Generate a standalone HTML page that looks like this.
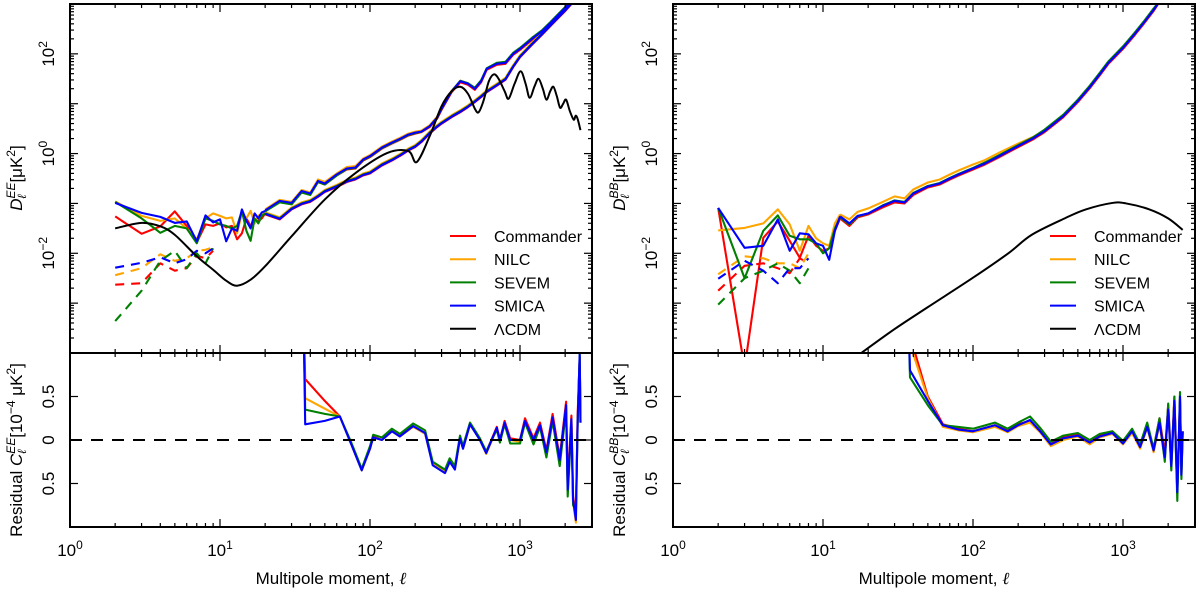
<!DOCTYPE html>
<html><head><meta charset="utf-8"><style>
html,body{margin:0;padding:0;background:#fff;}
svg{display:block;font-family:"Liberation Sans","DejaVu Sans",sans-serif;}
</style></head><body>
<svg id="fig" width="1200" height="592" viewBox="0 0 1200 592" xmlns="http://www.w3.org/2000/svg">
<defs>
<clipPath id="cU0"><rect x="70" y="4" width="522" height="349"/></clipPath>
<clipPath id="cL0"><rect x="70" y="353" width="522" height="174"/></clipPath>
<clipPath id="cU1"><rect x="673" y="4" width="522" height="349"/></clipPath>
<clipPath id="cL1"><rect x="673" y="353" width="522" height="174"/></clipPath>
</defs>
<g id="layer"></g>
</svg>
<script>
// ---------- EE data (log10 D_ell in muK^2) ----------
const ellLow = [2,3,4,5,6,7,8,9,10,11,12,13,14,15,16,17,18,19,20];
const eeLowCommander = [-1.26,-1.61,-1.46,-1.16,-1.45,-1.78,-1.42,-1.45,-1.4,-1.48,-1.45,-1.72,-1.6,-1.3,-1.45,-1.35,-1.35,-1.3,-1.2];
const eeLowNILC = [-0.96,-1.25,-1.35,-1.3,-1.5,-1.72,-1.3,-1.2,-1.25,-1.3,-1.28,-1.6,-1.2,-1.3,-1.15,-1.4,-1.25,-1.2,-1.15];
const eeLowSEVEM = [-0.97,-1.3,-1.59,-1.45,-1.5,-1.8,-1.3,-1.35,-1.42,-1.45,-1.5,-1.45,-1.15,-1.55,-1.75,-1.3,-1.4,-1.25,-1.2];
const eeLowSMICA = [-0.99,-1.19,-1.27,-1.39,-1.36,-1.76,-1.24,-1.38,-1.32,-1.76,-1.5,-1.55,-1.12,-1.35,-1.5,-1.2,-1.3,-1.18,-1.15];
const ellDash = [2,3,4,5,6,7,8,9];
const eeDashCommander = [-2.63,-2.6,-2.2,-2.35,-2.3,-2.05,-2.1,-1.95];
const eeDashNILC = [-2.44,-2.3,-2.02,-2.15,-2.1,-1.95,-1.93,-1.88];
const eeDashSEVEM = [-3.36,-2.75,-2.15,-1.95,-2.3,-2.0,-2.2,-1.9];
const eeDashSMICA = [-2.29,-2.19,-2.08,-2.2,-2.12,-1.95,-2.0,-1.9];
const ellBand = [20,25,30,35,40,45,50,60,70,80,90,100,120,140,160,180,200,220,250,280,300,350,400,450,500,550,600,700,800,900,1000,1200,1400,1600,1800,2000,2200,2400,2600];
const eeHighCommander = [-1.15,-0.97,-1.0,-0.78,-0.82,-0.57,-0.62,-0.44,-0.32,-0.3,-0.14,-0.07,0.1,0.2,0.28,0.36,0.4,0.43,0.53,0.7,0.88,1.23,1.43,1.38,1.28,1.43,1.68,1.78,1.8,1.98,2.08,2.28,2.43,2.6,2.76,2.9,3.03,3.18,3.3];
const eeHighNILC = [-1.12,-0.93,-0.97,-0.73,-0.78,-0.52,-0.57,-0.4,-0.27,-0.25,-0.1,-0.03,0.14,0.24,0.32,0.4,0.44,0.46,0.57,0.74,0.92,1.26,1.46,1.41,1.31,1.46,1.71,1.81,1.83,2.01,2.11,2.31,2.46,2.63,2.79,2.93,3.06,3.21,3.3];
const eeHighSEVEM = [-1.16,-0.98,-1.02,-0.78,-0.83,-0.57,-0.62,-0.44,-0.31,-0.29,-0.13,-0.06,0.11,0.21,0.29,0.37,0.41,0.44,0.55,0.72,0.9,1.25,1.46,1.41,1.32,1.47,1.71,1.82,1.84,2.02,2.12,2.32,2.47,2.64,2.8,2.94,3.07,3.22,3.3];
const eeHighSMICA = [-1.14,-0.95,-0.99,-0.75,-0.8,-0.55,-0.6,-0.42,-0.3,-0.28,-0.12,-0.05,0.12,0.22,0.3,0.38,0.42,0.44,0.55,0.72,0.9,1.25,1.45,1.4,1.3,1.45,1.7,1.8,1.82,2.0,2.1,2.3,2.45,2.62,2.78,2.92,3.05,3.2,3.3];
const eeLowBandCommander = [-1.22,-1.32,-1.12,-1.02,-0.97,-0.87,-0.77,-0.67,-0.57,-0.52,-0.44,-0.4,-0.24,-0.14,-0.04,0.06,0.13,0.23,0.4,0.53,0.6,0.73,0.83,0.93,1.03,1.13,1.23,1.36,1.48,1.73,1.93,2.18,2.38,2.56,2.72,2.86,3.0,3.13,3.3];
const eeLowBandNILC = [-1.18,-1.28,-1.08,-0.98,-0.93,-0.83,-0.73,-0.63,-0.53,-0.48,-0.4,-0.36,-0.2,-0.1,0.0,0.1,0.17,0.27,0.44,0.57,0.64,0.77,0.87,0.97,1.07,1.17,1.27,1.4,1.52,1.77,1.97,2.22,2.42,2.6,2.76,2.9,3.04,3.17,3.3];
const eeLowBandSEVEM = [-1.2,-1.3,-1.1,-1.0,-0.95,-0.85,-0.75,-0.65,-0.55,-0.5,-0.42,-0.38,-0.22,-0.12,-0.02,0.08,0.15,0.25,0.42,0.55,0.62,0.75,0.85,0.95,1.05,1.15,1.25,1.38,1.5,1.75,1.95,2.2,2.4,2.58,2.74,2.88,3.02,3.15,3.3];
const eeLowBandSMICA = [-1.21,-1.31,-1.11,-1.01,-0.96,-0.86,-0.76,-0.66,-0.56,-0.51,-0.43,-0.39,-0.23,-0.13,-0.03,0.07,0.14,0.24,0.41,0.54,0.61,0.74,0.84,0.94,1.04,1.14,1.24,1.37,1.49,1.74,1.94,2.19,2.39,2.57,2.73,2.87,3.01,3.14,3.3];
const ellLcdmEE = [2,3,4,5,7,9,11,13,16,20,30,50,80,130,180,205,250,300,350,400,450,500,530,570,620,670,720,790,840,920,1010,1090,1160,1250,1330,1420,1500,1590,1670,1760,1850,1940,2030,2150,2280,2350,2420,2530];
const lcdmEE = [-1.5,-1.39,-1.46,-1.63,-2.06,-2.33,-2.55,-2.65,-2.53,-2.26,-1.66,-0.92,-0.39,0.01,0.05,-0.17,0.35,0.95,1.25,1.34,1.2,0.9,0.83,1.05,1.45,1.59,1.5,1.25,1.1,1.4,1.65,1.4,1.12,1.35,1.5,1.3,1.08,1.25,1.34,1.15,0.92,1.0,1.08,0.85,0.68,0.76,0.7,0.47];
// ---------- EE residuals (1e-4 muK^2) ----------
const ellResEE = [36,37,50,63,75,88,100,105,120,140,158,194,233,262,316,340,368,398,417,464,540,595,700,735,790,860,1000,1080,1230,1360,1500,1650,1840,2030,2080,2200,2260,2360,2420,2500,2530];
const resEECommander = [1.5,0.7,0.45,0.27,-0.05,-0.34,-0.1,0.04,0.0,0.1,0.05,0.16,0.08,-0.27,-0.36,-0.24,-0.32,0.03,-0.09,0.19,0.01,-0.14,0.15,0.0,0.22,0.02,0.0,0.25,0.02,0.2,-0.12,0.3,-0.2,0.44,-0.5,0.28,-0.65,-0.85,0.28,0.95,0.2];
const resEENILC = [1.5,0.48,0.36,0.27,-0.05,-0.35,-0.1,0.03,0.0,0.1,0.04,0.15,0.07,-0.28,-0.37,-0.25,-0.33,0.02,-0.1,0.18,0.0,-0.16,0.13,-0.01,0.2,0.0,-0.02,0.22,-0.02,0.16,-0.16,0.25,-0.25,0.38,-0.6,0.22,-0.72,-0.95,0.18,0.95,0.2];
const resEESEVEM = [1.5,0.35,0.3,0.27,-0.03,-0.33,-0.07,0.06,0.03,0.13,0.07,0.19,0.11,-0.25,-0.34,-0.21,-0.3,0.05,-0.07,0.2,0.02,-0.13,0.12,-0.03,0.18,-0.04,-0.04,0.2,-0.05,0.15,-0.2,0.22,-0.3,0.35,-0.65,0.18,-0.75,-0.8,0.15,1.0,0.2];
const resEESMICA = [1.5,0.18,0.22,0.27,-0.05,-0.35,-0.1,0.03,0.0,0.1,0.04,0.16,0.08,-0.29,-0.38,-0.25,-0.34,0.02,-0.1,0.18,0.0,-0.15,0.14,0.0,0.2,0.0,0.0,0.22,0.0,0.17,-0.14,0.26,-0.23,0.4,-0.57,0.24,-0.69,-0.92,0.2,0.98,0.2];
// ---------- BB data ----------
const ellLowB = [2,3,4,5,6,7,8,9,10,11,12,13];
const bbLowCommander = [-1.09,-4.3,-1.69,-1.36,-1.75,-2.09,-1.65,-1.85,-1.95,-1.9,-1.55,-1.3];
const bbLowNILC = [-1.54,-1.49,-1.4,-1.12,-1.42,-1.95,-1.45,-1.7,-1.8,-1.85,-1.4,-1.22];
const bbLowSEVEM = [-1.09,-2.5,-1.55,-1.24,-1.65,-1.72,-1.72,-1.8,-2.0,-1.9,-1.5,-1.28];
const bbLowSMICA = [-1.09,-1.89,-1.85,-1.32,-1.95,-1.6,-1.62,-1.8,-1.85,-2.13,-1.55,-1.26];
const ellDashB = [2,3,4,5,6,7,8];
const bbDashCommander = [-2.75,-2.25,-2.2,-2.3,-2.4,-2.1,-2.2];
const bbDashNILC = [-2.42,-2.06,-2.1,-2.2,-2.2,-2.3,-2.0];
const bbDashSEVEM = [-3.03,-2.5,-2.35,-2.2,-2.35,-2.6,-2.3];
const bbDashSMICA = [-2.51,-2.15,-2.35,-2.6,-2.3,-2.3,-2.1];
const ellBandB = [13,15,17,20,25,30,35,40,50,60,70,80,100,120,150,200,250,300,400,500,600,700,800,1000,1200,1400,1600,1800];
const bbCommander = [-1.3,-1.45,-1.28,-1.22,-1.08,-0.98,-1.0,-0.83,-0.68,-0.62,-0.52,-0.44,-0.32,-0.22,-0.07,0.13,0.28,0.43,0.73,1.03,1.31,1.57,1.8,2.1,2.38,2.63,2.86,3.1];
const bbNILC = [-1.22,-1.32,-1.17,-1.1,-0.97,-0.86,-0.9,-0.72,-0.58,-0.52,-0.42,-0.34,-0.22,-0.13,0.02,0.2,0.33,0.47,0.76,1.05,1.33,1.59,1.82,2.12,2.4,2.65,2.88,3.1];
const bbSEVEM = [-1.28,-1.42,-1.26,-1.2,-1.04,-0.94,-0.97,-0.79,-0.65,-0.59,-0.49,-0.41,-0.29,-0.18,-0.03,0.17,0.32,0.48,0.78,1.08,1.36,1.62,1.85,2.15,2.43,2.68,2.91,3.1];
const bbSMICA = [-1.26,-1.4,-1.25,-1.2,-1.05,-0.95,-0.98,-0.8,-0.66,-0.6,-0.5,-0.42,-0.3,-0.2,-0.05,0.15,0.3,0.45,0.75,1.05,1.33,1.59,1.82,2.12,2.4,2.65,2.88,3.1];
const ellLcdmBB = [18,30,50,100,172,246,415,565,850,1050,1500,2000,2500];
const lcdmBB = [-4.0,-3.52,-3.08,-2.49,-2.0,-1.63,-1.29,-1.12,-0.99,-1.0,-1.12,-1.3,-1.53];
// ---------- BB residuals ----------
const ellResBB = [37,38,50,63,80,100,140,170,200,240,280,330,400,500,600,700,850,1000,1150,1300,1450,1600,1750,1900,2000,2100,2200,2300,2400,2450,2500];
const resBBCommander = [1.5,1.2,0.5,0.18,0.13,0.1,0.17,0.11,0.18,0.22,0.11,-0.04,0.03,0.06,-0.02,0.05,0.1,-0.03,0.12,-0.06,0.18,-0.1,0.25,-0.15,0.4,-0.25,0.5,-0.55,0.45,-0.35,0.1];
const resBBNILC = [1.5,1.1,0.48,0.15,0.11,0.09,0.15,0.09,0.16,0.2,0.09,-0.07,0.0,0.04,-0.05,0.03,0.07,-0.05,0.08,-0.1,0.14,-0.14,0.18,-0.22,0.33,-0.32,0.42,-0.62,0.48,-0.42,0.1];
const resBBSEVEM = [1.5,0.72,0.4,0.17,0.15,0.13,0.2,0.13,0.2,0.27,0.14,-0.02,0.05,0.08,0.0,0.07,0.1,-0.01,0.13,-0.05,0.2,-0.1,0.25,-0.25,0.42,-0.35,0.5,-0.7,0.55,-0.45,0.1];
const resBBSMICA = [1.5,0.8,0.45,0.17,0.12,0.1,0.17,0.1,0.17,0.23,0.1,-0.05,0.02,0.05,-0.03,0.04,0.08,-0.04,0.1,-0.08,0.15,-0.12,0.2,-0.2,0.35,-0.3,0.45,-0.6,0.5,-0.4,0.1];
const legendLabels = ["Commander","NILC","SEVEM","SMICA","\u039BCDM"];
const yTicksUpper = [-2,0,2];
const yTicksLower = [-0.5,0,0.5];
const xDecades = [0,1,2,3];

const NS = "http://www.w3.org/2000/svg";
const layer = document.getElementById('layer');
const COL = {Commander:"#ff0000",NILC:"#ffa500",SEVEM:"#008000",SMICA:"#0000ff"};
const panels = [{x0:70,x1:592},{x0:673,x1:1195}];
const UT=4, MID=353, LB=527;
function xS(p,ell){return p.x0+150*Math.log10(ell);}
function yU(lg){return MID-(lg+4)*(349/7);}
function yL(r){return 440-r*87;}
function mk(tag,attrs,parent){const e=document.createElementNS(NS,tag);for(const k in attrs)e.setAttribute(k,attrs[k]);(parent||layer).appendChild(e);return e;}
function poly(p,xs,ys,yf,color,clip,dash,name){
  const pts=xs.map((l,i)=>xS(p,l).toFixed(1)+","+yf(ys[i]).toFixed(1)).join(" ");
  const e=mk('polyline',{points:pts,fill:"none",stroke:color,"stroke-width":2.1,"stroke-linejoin":"round","clip-path":"url(#"+clip+")"});
  if(dash)e.setAttribute('stroke-dasharray','9,7');
  
  
  return e;
}
function smooth(p,xs,ys,yf,clip,name){
  const P=xs.map((l,i)=>[xS(p,l),yf(ys[i])]);
  let d="M"+P[0][0]+","+P[0][1];
  for(let i=0;i<P.length-1;i++){
    const a=P[Math.max(0,i-1)],b=P[i],c=P[i+1],e2=P[Math.min(P.length-1,i+2)];
    const c1=[b[0]+(c[0]-a[0])/6,b[1]+(c[1]-a[1])/6],c2=[c[0]-(e2[0]-b[0])/6,c[1]-(e2[1]-b[1])/6];
    d+=" C"+c1.join(",")+" "+c2.join(",")+" "+c.join(",");
  }
  const e=mk('path',{d:d,fill:"none",stroke:"#000","stroke-width":2,"clip-path":"url(#"+clip+")"});
  
  
}
const names=["Commander","NILC","SEVEM","SMICA"];
const pL=panels[0], pR=panels[1];
const eeLow={Commander:eeLowCommander,NILC:eeLowNILC,SEVEM:eeLowSEVEM,SMICA:eeLowSMICA};
const eeDash={Commander:eeDashCommander,NILC:eeDashNILC,SEVEM:eeDashSEVEM,SMICA:eeDashSMICA};
const eeHigh={Commander:eeHighCommander,NILC:eeHighNILC,SEVEM:eeHighSEVEM,SMICA:eeHighSMICA};
const eeLB={Commander:eeLowBandCommander,NILC:eeLowBandNILC,SEVEM:eeLowBandSEVEM,SMICA:eeLowBandSMICA};
const resEE={Commander:resEECommander,NILC:resEENILC,SEVEM:resEESEVEM,SMICA:resEESMICA};
const bbLow={Commander:bbLowCommander,NILC:bbLowNILC,SEVEM:bbLowSEVEM,SMICA:bbLowSMICA};
const bbDash={Commander:bbDashCommander,NILC:bbDashNILC,SEVEM:bbDashSEVEM,SMICA:bbDashSMICA};
const bbBand={Commander:bbCommander,NILC:bbNILC,SEVEM:bbSEVEM,SMICA:bbSMICA};
const resBB={Commander:resBBCommander,NILC:resBBNILC,SEVEM:resBBSEVEM,SMICA:resBBSMICA};
names.forEach(n=>{
  const k=n.toLowerCase();
  poly(pL,ellDash,eeDash[n],yU,COL[n],"cU0",true,"ee-"+k+"-negative-dashed");
  poly(pL,ellLow,eeLow[n],yU,COL[n],"cU0",false,"ee-"+k+"-low-ell");
  poly(pL,ellBand,eeLB[n],yU,COL[n],"cU0",false,"ee-"+k+"-lower-band");
  poly(pL,ellBand,eeHigh[n],yU,COL[n],"cU0",false,"ee-"+k+"-upper-band");
  poly(pL,ellResEE,resEE[n],yL,COL[n],"cL0",false,"ee-"+k+"-residual");
  poly(pR,ellDashB,bbDash[n],yU,COL[n],"cU1",true,"bb-"+k+"-negative-dashed");
  poly(pR,ellLowB,bbLow[n],yU,COL[n],"cU1",false,"bb-"+k+"-low-ell");
  poly(pR,ellBandB,bbBand[n],yU,COL[n],"cU1",false,"bb-"+k+"-band");
  poly(pR,ellResBB,resBB[n],yL,COL[n],"cL1",false,"bb-"+k+"-residual");
});
smooth(pL,ellLcdmEE,lcdmEE,yU,"cU0","ee-lcdm-model");
smooth(pR,ellLcdmBB,lcdmBB,yU,"cU1","bb-lcdm-model");

panels.forEach((p,pi)=>{
  const side=pi===0?"ee":"bb";
  const z=mk('line',{x1:p.x0,x2:p.x1,y1:yL(0),y2:yL(0),stroke:"#000","stroke-width":2,"stroke-dasharray":"12,9"});
  
  
  const fr=mk('rect',{x:p.x0,y:UT,width:p.x1-p.x0,height:LB-UT,fill:"none",stroke:"#000","stroke-width":2});
  
  
  mk('line',{x1:p.x0,x2:p.x1,y1:MID,y2:MID,stroke:"#000","stroke-width":2});
  xDecades.forEach(d=>{
    for(let m=1;m<10;m++){
      const l=Math.pow(10,d)*m, x=xS(p,l); if(x>p.x1)break;
      const len=m===1?8:4;
      [[UT,1],[MID,-1],[MID,1],[LB,-1]].forEach(([y,s])=>mk('line',{x1:x,x2:x,y1:y,y2:y+s*len,stroke:"#000","stroke-width":1.2}));
    }
    const x=xS(p,Math.pow(10,d));
    const t=mk('text',{x:x,y:556,"font-size":17,"text-anchor":"middle"});
    t.innerHTML='10<tspan dy="-7" font-size="12">'+d+'</tspan>';
    
    
  });
  for(let d=-4;d<3;d++){for(let m=1;m<10;m++){
    const y=yU(d+Math.log10(m)); if(y<UT)break;
    const len=m===1?8:4;
    mk('line',{x1:p.x0,x2:p.x0+len,y1:y,y2:y,stroke:"#000","stroke-width":1.2});
    mk('line',{x1:p.x1,x2:p.x1-len,y1:y,y2:y,stroke:"#000","stroke-width":1.2});
  }}
  yTicksUpper.forEach(d=>{
    const y=yU(d), tx=p.x0-16;
    const t=mk('text',{x:tx,y:y,"font-size":17,"text-anchor":"middle",transform:"rotate(-90 "+tx+" "+y+")"});
    t.innerHTML='10<tspan dy="-7" font-size="12">'+(d<0?'\u2212'+(-d):d)+'</tspan>';
    
    
  });
  yTicksLower.forEach(v=>{
    const y=yL(v), tx=p.x0-16;
    mk('line',{x1:p.x0,x2:p.x0+8,y1:y,y2:y,stroke:"#000","stroke-width":1.2});
    mk('line',{x1:p.x1,x2:p.x1-8,y1:y,y2:y,stroke:"#000","stroke-width":1.2});
    const t=mk('text',{x:tx,y:y,"font-size":17,"text-anchor":"middle",transform:"rotate(-90 "+tx+" "+y+")"});
    t.textContent=String(Math.abs(v));
    
    
  });
  const xt=mk('text',{x:(p.x0+p.x1)/2,y:584,"font-size":17,"text-anchor":"middle"});
  xt.innerHTML='Multipole moment, <tspan font-style="italic" font-family="Liberation Serif, serif">\u2113</tspan>';
  
  
  const sup=side.toUpperCase();
  const ax=p.x0-48;
  const yt=mk('text',{x:ax,y:178,"font-size":17,"text-anchor":"middle",transform:"rotate(-90 "+ax+" 178)"});
  yt.innerHTML='<tspan font-style="italic">D</tspan><tspan font-size="12" dy="-7" font-style="italic">'+sup+'</tspan><tspan font-size="12" dy="11" dx="-16" font-style="italic">\u2113</tspan><tspan dy="-4" dx="12">[\u03BCK</tspan><tspan dy="-7" font-size="12">2</tspan><tspan dy="7">]</tspan>';
  
  
  const rt=mk('text',{x:ax,y:450,"font-size":17,"text-anchor":"middle",transform:"rotate(-90 "+ax+" 450)"});
  rt.innerHTML='Residual <tspan font-style="italic">C</tspan><tspan font-size="12" dy="-7" font-style="italic">'+sup+'</tspan><tspan font-size="12" dy="11" dx="-16" font-style="italic">\u2113</tspan><tspan dy="-4" dx="12">[10</tspan><tspan dy="-7" font-size="12">\u22124</tspan><tspan dy="7"> \u03BCK</tspan><tspan dy="-7" font-size="12">2</tspan><tspan dy="7">]</tspan>';
  
  
  const lx=pi===0?450:1050;
  const lg=mk('g',{});
  
  
  legendLabels.forEach((lab,i)=>{
    const y=236+i*23.2;
    const c=i<4?COL[names[i]]:"#000";
    const ln=mk('line',{x1:lx,x2:lx+26,y1:y,y2:y,stroke:c,"stroke-width":2},lg);
    
    
    const t=mk('text',{x:lx+44,y:y+6,"font-size":16},lg);
    t.textContent=lab;
    
    
  });
});
</script>
</body></html>
